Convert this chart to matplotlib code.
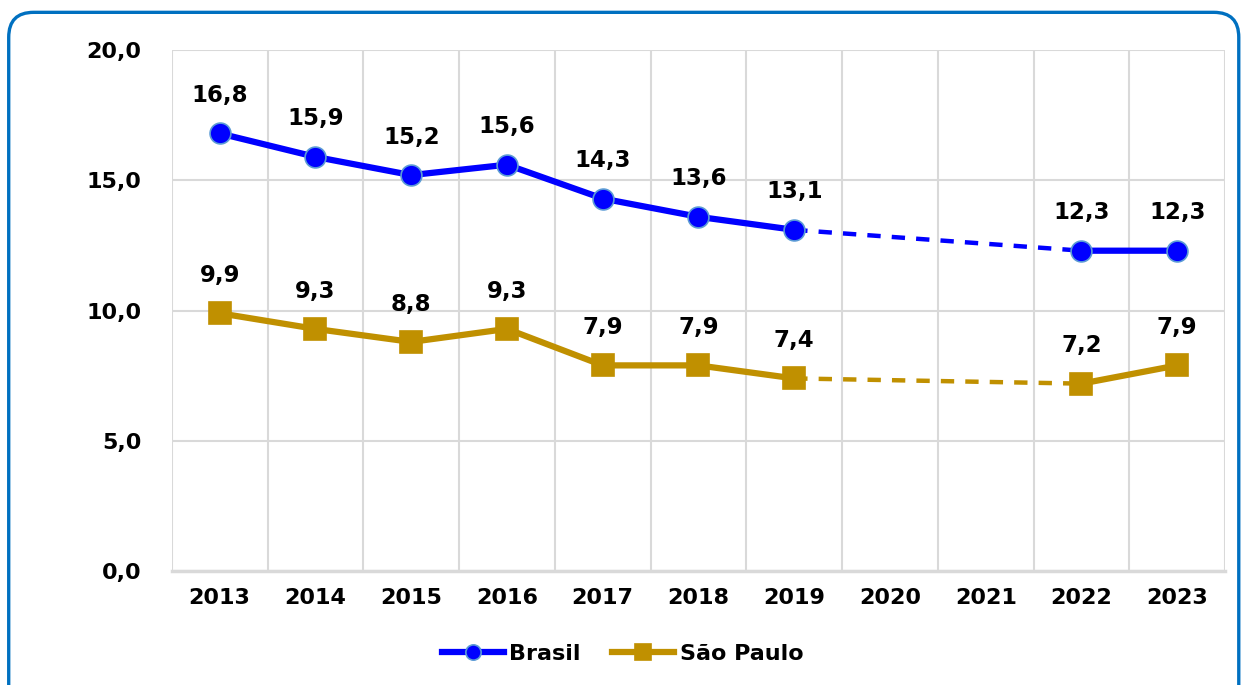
import matplotlib.pyplot as plt
import numpy as np
from matplotlib.patches import FancyBboxPatch

anos = ["2013", "2014", "2015", "2016", "2017", "2018", "2019", "2020", "2021", "2022", "2023"]
brasil = [16.8, 15.9, 15.2, 15.6, 14.3, 13.6, 13.1, None, None, 12.3, 12.3]
sao_paulo = [9.9, 9.3, 8.8, 9.3, 7.9, 7.9, 7.4, None, None, 7.2, 7.9]

azul = "#0000FF"
ouro = "#C09000"

plt.rcParams['font.family'] = ['DejaVu Sans']
plt.rcParams['font.weight'] = 'bold'

fig = plt.figure(figsize=(12.45, 6.85), dpi=100)
ax = fig.add_axes([0.138, 0.166, 0.846, 0.761])

# moldura arredondada
moldura = FancyBboxPatch((0.007, -0.05), 0.988, 1.032, boxstyle="round,pad=0,rounding_size=0.02",
                         transform=fig.transFigure, fill=False, edgecolor="#0070C0", linewidth=2.4,
                         mutation_aspect=1245 / 685)
fig.patches.append(moldura)

x = np.arange(len(anos))


def serie(vals, cor, marcador, ms, mec, nome):
    v = np.array([np.nan if a is None else a for a in vals], dtype=float)
    idx = [i for i in range(len(v)) if not np.isnan(v[i])]
    # trecho tracejado entre os pontos com falta de dados
    for a, b in zip(idx[:-1], idx[1:]):
        if b - a > 1:
            ax.plot([x[a], x[b]], [v[a], v[b]], color=cor, lw=3.2, ls=(0, (3, 2.5)), zorder=3)
    ax.plot(x, v, color=cor, lw=4.5, marker=marcador, ms=ms, mfc=cor, mec=mec, mew=1.2,
            zorder=4, label=nome)
    for i in idx:
        ax.annotate(f"{v[i]:.1f}".replace(".", ","), (x[i], v[i]), xytext=(0, 19),
                    textcoords="offset points", ha="center", va="bottom", fontsize=16.5,
                    fontweight="bold")


serie(brasil, azul, "o", 15, "#5B9BD5", "Brasil")
serie(sao_paulo, ouro, "s", 16, ouro, "São Paulo")

ax.set_xlim(-0.5, len(anos) - 0.5)
ax.set_ylim(0, 20)
ax.set_yticks([0, 5, 10, 15, 20])
ax.set_yticklabels([f"{t:.1f}".replace(".", ",") for t in [0, 5, 10, 15, 20]])
ax.set_xticks(x)
ax.set_xticklabels(anos)
ax.set_xticks(np.arange(-0.5, len(anos)), minor=True)
ax.tick_params(axis="both", which="both", length=0, labelsize=16)
ax.tick_params(axis="y", pad=22)
ax.tick_params(axis="x", pad=12)
ax.grid(axis="y", which="major", color="#D9D9D9", lw=1.5)
ax.grid(axis="x", which="minor", color="#D9D9D9", lw=1.5)
ax.set_axisbelow(True)
for s in ["top", "right", "left"]:
    ax.spines[s].set_visible(False)
ax.spines["bottom"].set_color("#D9D9D9")
ax.spines["bottom"].set_linewidth(2.5)

leg = fig.legend(loc="center", bbox_to_anchor=(0.5, 0.045), ncol=2, frameon=False,
                 handlelength=2.8, handletextpad=0.25, columnspacing=1.4,
                 prop={"weight": "bold", "size": 16})
for h in leg.legend_handles:
    h.set_markersize(11)

fig.savefig("out.png", dpi=100)
